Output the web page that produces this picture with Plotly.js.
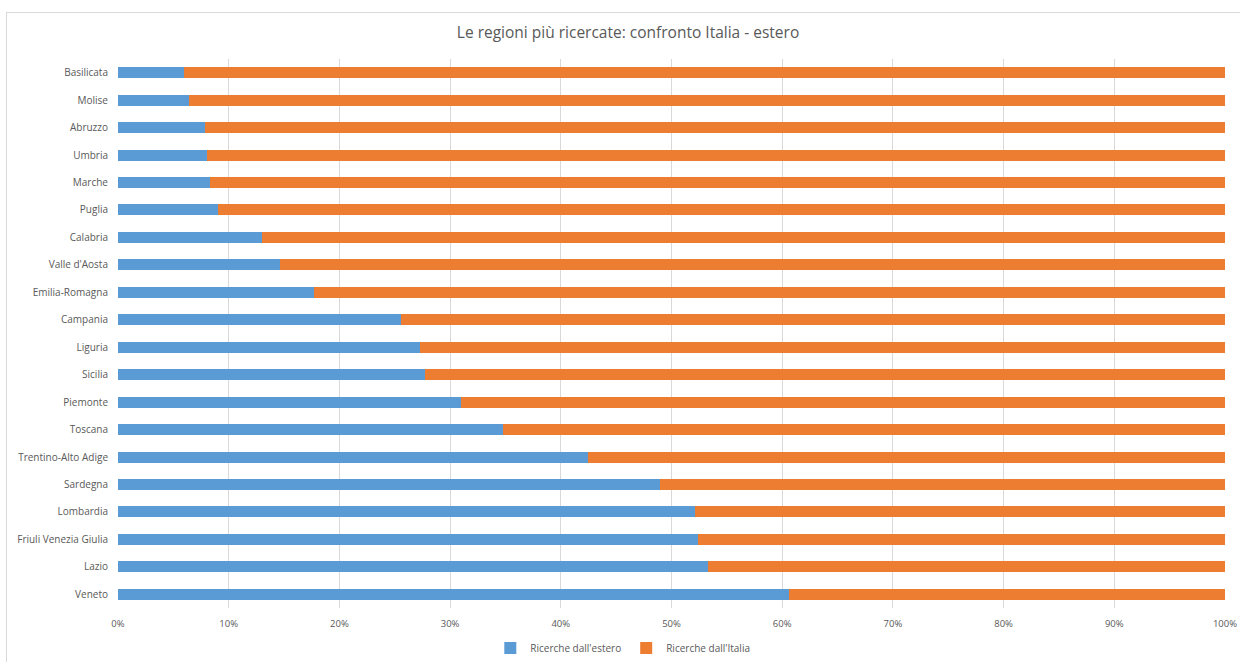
<!DOCTYPE html>
<html>
<head>
<meta charset="utf-8">
<script src="https://cdn.plot.ly/plotly-3.0.1.min.js"></script>
<style>
  html, body { margin: 0; padding: 0; background: #ffffff; }
  #chart { width: 1240px; height: 662px; }
  #frame { position: absolute; left: 6px; top: 12px; width: 1240px; height: 660px; border: 1px solid #d9d9d9; pointer-events: none; }
</style>
</head>
<body>
<div id="chart"></div>
<div id="frame"></div>
<script>
const regions = ["Basilicata", "Molise", "Abruzzo", "Umbria", "Marche", "Puglia", "Calabria",
  "Valle d'Aosta", "Emilia-Romagna", "Campania", "Liguria", "Sicilia", "Piemonte", "Toscana",
  "Trentino-Alto Adige", "Sardegna", "Lombardia", "Friuli Venezia Giulia", "Lazio", "Veneto"];
const estero = [6.0, 6.4, 7.9, 8.0, 8.3, 9.0, 13.0, 14.6, 17.7, 25.6, 27.3, 27.7, 31.0, 34.8,
  42.5, 49.0, 52.1, 52.4, 53.3, 60.6];
const italia = [94.0, 93.6, 92.1, 92.0, 91.7, 91.0, 87.0, 85.4, 82.3, 74.4, 72.7, 72.3, 69.0, 65.2,
  57.5, 51.0, 47.9, 47.6, 46.7, 39.4];
const seriesNames = ["Ricerche dall'estero", "Ricerche dall'Italia"];
const tickValues = [0, 10, 20, 30, 40, 50, 60, 70, 80, 90, 100];
const tickLabels = ["0%", "10%", "20%", "30%", "40%", "50%", "60%", "70%", "80%", "90%", "100%"];
const titleText = "Le regioni più ricercate: confronto Italia - estero";

const fontFam = "'Open Sans', 'Liberation Sans', sans-serif";
const grey = "#595959";

const traces = [
  { type: "bar", orientation: "h", name: seriesNames[0], y: regions, x: estero,
    marker: { color: "#5B9BD5" }, hoverinfo: "x+y" },
  { type: "bar", orientation: "h", name: seriesNames[1], y: regions, x: italia,
    marker: { color: "#ED7D31" }, hoverinfo: "x+y" }
];

const layout = {
  width: 1240, height: 662,
  margin: { l: 118, r: 15, t: 59, b: 54, autoexpand: false },
  paper_bgcolor: "#ffffff", plot_bgcolor: "#ffffff",
  barmode: "stack", bargap: 0.6,
  font: { family: fontFam, size: 10, color: grey },
  title: { text: titleText, x: 0.5065, xanchor: "center", y: 0.951, yanchor: "middle",
    font: { family: fontFam, size: 15.5, color: grey } },
  xaxis: { range: [0, 100], tickvals: tickValues, ticktext: tickLabels, automargin: false,
    showgrid: true, gridcolor: "#d9d9d9", gridwidth: 1, zeroline: false,
    showline: false, ticks: "outside", ticklen: 7, tickcolor: "rgba(0,0,0,0)",
    tickfont: { size: 9.5, color: grey }, fixedrange: true },
  yaxis: { autorange: "reversed", type: "category", showgrid: false, zeroline: false, automargin: false,
    showline: false, ticks: "outside", ticklen: 7, tickcolor: "rgba(0,0,0,0)",
    tickfont: { size: 10, color: grey }, fixedrange: true },
  legend: { orientation: "h", x: 0.456, xanchor: "center", y: -0.073, yanchor: "middle",
    traceorder: "normal", font: { size: 10, color: grey }, itemwidth: 30 },
  showlegend: true
};

Plotly.newPlot("chart", traces, layout, { displayModeBar: false, staticPlot: true });
</script>
</body>
</html>
